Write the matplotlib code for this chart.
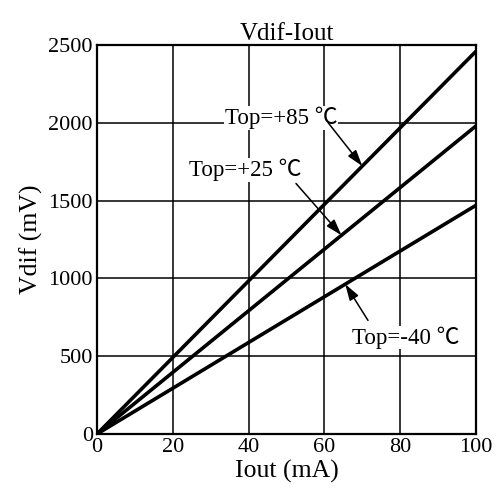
import matplotlib
matplotlib.use("Agg")
import matplotlib.pyplot as plt

# Data
iout = [0, 100]
vdif_85 = [0, 2460]
vdif_25 = [0, 1980]
vdif_m40 = [0, 1470]

x_ticks = [0, 20, 40, 60, 80, 100]
y_ticks = [0, 500, 1000, 1500, 2000, 2500]

labels = ["Top=+85 \u2103", "Top=+25 \u2103", "Top=-40 \u2103"]
label_pos = [(48.5, 2030), (39.0, 1695), (81.5, 620)]
arrow_tail = [(61.0, 2000), (52.5, 1610), (71.5, 730)]
arrow_head = [(70.0, 1722), (64.5, 1277), (65.5, 963)]

plt.rcParams['font.family'] = ['Liberation Serif', 'Noto Sans CJK SC', 'DejaVu Serif']

fig = plt.figure(figsize=(4.96, 4.99), dpi=100)
ax = fig.add_axes([0.1956, 0.1303, 0.7641, 0.7795])

ax.set_xlim(0, 100)
ax.set_ylim(0, 2500)
ax.set_xticks(x_ticks)
ax.set_yticks(y_ticks)
ax.tick_params(length=0, labelsize=16, pad=3)
ax.grid(True, color='black', linewidth=1.1)
ax.set_axisbelow(True)
for s in ax.spines.values():
    s.set_linewidth(1.6)

for v in (vdif_85, vdif_25, vdif_m40):
    ax.plot(iout, v, color='black', linewidth=2.6, solid_capstyle='butt', zorder=3)

for lab, pos, tail, head in zip(labels, label_pos, arrow_tail, arrow_head):
    ax.text(pos[0], pos[1], lab, ha='center', va='center', fontsize=16.5,
            bbox=dict(facecolor='white', edgecolor='none', pad=0.5), zorder=4)
    ax.annotate('', xy=head, xytext=tail,
                arrowprops=dict(arrowstyle='-|>,head_length=0.7,head_width=0.22',
                                color='black', lw=1.1,
                                mutation_scale=14, shrinkA=0, shrinkB=0),
                zorder=5)

ax.set_xlabel('Iout (mA)', fontsize=18.5, labelpad=2)
ax.set_ylabel('Vdif (mV)', fontsize=18.5, labelpad=4)
ax.set_title('Vdif-Iout', fontsize=18, pad=3)

fig.savefig('out.png', dpi=100)
